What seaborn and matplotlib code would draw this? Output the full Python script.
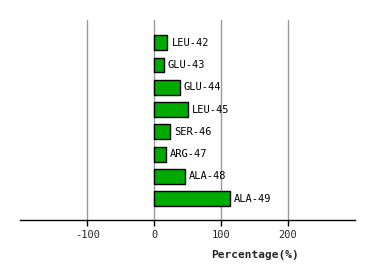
import matplotlib
matplotlib.use("Agg")
import matplotlib.pyplot as plt
import seaborn as sns
import pandas as pd

residues = ["LEU-42", "GLU-43", "GLU-44", "LEU-45", "SER-46", "ARG-47", "ALA-48", "ALA-49"]
percent = [20, 14.5, 38.5, 50.5, 23.5, 17.5, 46, 113.5]
xticks = [-100, 0, 100, 200]

df = pd.DataFrame({"residue": residues, "pct": percent})

sns.set_style("white")
plt.rcParams["font.family"] = ["DejaVu Sans Mono", "DejaVu Sans"]

fig = plt.figure(figsize=(3.74, 2.8), dpi=100)
ax = fig.add_axes([20/374, 60/280, 335/374, 200/280])

sns.barplot(data=df, x="pct", y="residue", orient="h", color="#00aa00",
            edgecolor="black", linewidth=1.0, width=0.67, saturation=1, ax=ax)

for c in ax.containers:
    ax.bar_label(c, labels=residues, padding=3, fontsize=7.5, color="black")

ax.set_xlim(-201, 301)
ax.set_ylim(7.96, -1.02)
ax.set_xticks(xticks)
ax.set_xticklabels([str(t) for t in xticks], fontsize=7.5)
ax.set_yticks([])
ax.set_ylabel("")
ax.set_xlabel("Percentage(%)", fontsize=8, fontweight="bold")
ax.xaxis.set_label_coords((255 - 20) / 335, -0.15)

ax.grid(axis="x", color="#999999", linewidth=1)
ax.set_axisbelow(True)
for s in ["top", "left", "right"]:
    ax.spines[s].set_visible(False)
ax.spines["bottom"].set_color("black")
ax.spines["bottom"].set_linewidth(1)
ax.tick_params(axis="x", bottom=True, length=4, width=1, color="black", pad=3)

fig.savefig("out.png", dpi=100)
